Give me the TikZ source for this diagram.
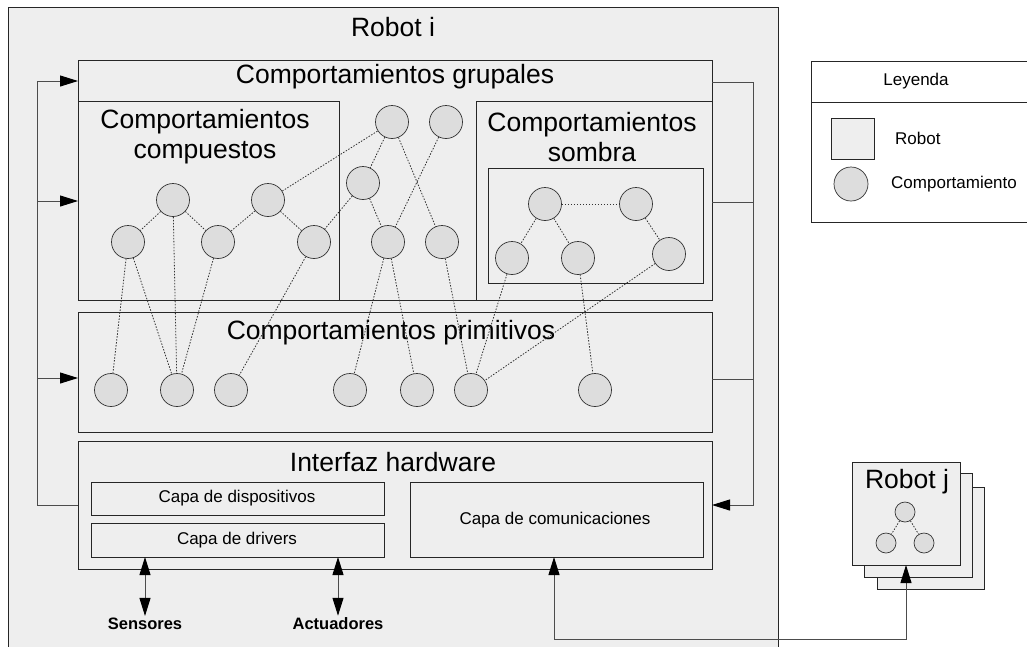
\documentclass[tikz,border=0pt]{standalone}
\usepackage{fontspec}
\setmainfont{Liberation Sans}
\usetikzlibrary{positioning,arrows.meta}
\definecolor{robotgray}{HTML}{EEEEEE}
\definecolor{behgray}{HTML}{DDDDDD}

\begin{document}
\begin{tikzpicture}[x=1pt,y=-1pt,
        panel/.style={draw=black!85, fill=robotgray, line width=0.8pt, anchor=north west,
                      inner sep=0pt, outer sep=0pt},
        beh/.style={circle, draw=black!80, fill=behgray, line width=0.7pt,
                    minimum size=33pt, inner sep=0pt},
        titletext/.style={font=\fontsize{26.5}{30}\selectfont, align=center, inner sep=0pt},
        smalltext/.style={font=\fontsize{17}{20}\selectfont, inner sep=0pt},
        iolabel/.style={font=\fontsize{16.5}{20}\selectfont\bfseries, inner sep=2pt},
        link/.style={draw=black!70, line width=1pt},
        feed/.style={link, -{Triangle[length=18pt,width=11pt,black]}},
        twoway/.style={link, {Triangle[length=18pt,width=11pt,black]}-{Triangle[length=18pt,width=11pt,black]}},
        dep/.style={draw=black!80, line width=0.8pt, dash pattern=on 1.5pt off 1.5pt}]
  \useasboundingbox (0,0) rectangle (1027,646);
  \clip (0,0) rectangle (1027,646);

  \node[panel, minimum width=770pt, minimum height=660pt] (roboti) at (8,7) {};
  \node[titletext] (robotititle) at (393,27) {Robot i};

  \node[panel, minimum width=634pt, minimum height=240pt] (grupal) at (78,60) {};
  \node[titletext] (grupaltitle) at (395,77) {Comportamientos grupales};
  \node[panel, minimum width=261pt, minimum height=199pt] (comp) at (78,101) {};
  \node[titletext] (comptitle) at (205,137) {Comportamientos\\compuestos};
  \node[panel, minimum width=236pt, minimum height=199pt] (sombra) at (476,101) {};
  \node[titletext] (sombratitle) at (592,137) {Comportamientos\\sombra};
  \node[panel, minimum width=215pt, minimum height=115pt] (sombrain) at (488,168) {};

  \node[panel, minimum width=634pt, minimum height=120pt] (prim) at (78,312) {};
  \node[titletext] (primtitle) at (391,333) {Comportamientos primitivos};

  \node[panel, minimum width=634pt, minimum height=128pt] (hw) at (78,441) {};
  \node[titletext] (hwtitle) at (393,462) {Interfaz hardware};
  \node[panel, minimum width=293pt, minimum height=33pt] (disp) at (91,482) {};
  \node[smalltext] (disptxt) at (237,498) {Capa de dispositivos};
  \node[panel, minimum width=293pt, minimum height=34pt] (drv) at (91,523) {};
  \node[smalltext] (drvtxt) at (237,540) {Capa de drivers};
  \node[panel, minimum width=293pt, minimum height=75pt] (com) at (410,482) {};
  \node[smalltext] (comtxt) at (555,520) {Capa de comunicaciones};

  \foreach \n/\x/\y in {a1/173/200, a2/268/200, b1/128/242, b2/218/242, b3/314/242,
                        m1/392/122, m2/446/122, m3/363/183, m4/388/242, m5/442/242,
                        s1/545/204, s2/636/204, s3/512/258, s4/578/258, s5/669/254,
                        p1/111/390, p2/177/390, p3/231/390, p4/350/390,
                        p5/417/390, p6/471/390, p7/595/390}
    \node[beh] (\n) at (\x,\y) {};
  \foreach \u/\v in {a1/b1, a1/b2, a2/b2, a2/b3, a2/m1, m1/m3, m3/b3, m3/m4, m1/m5, m2/m4,
                     s1/s2, s1/s3, s1/s4, s2/s5,
                     b1/p1, b1/p2, a1/p2, b2/p2, b3/p3, m4/p4, m4/p5, m5/p6, s3/p6, s5/p6, s4/p7}
    \draw[dep] (\u) -- (\v);

  \coordinate (l1) at (37,81);
  \coordinate (l2) at (37,201);
  \coordinate (l3) at (37,378);
  \draw[link] (hw.west) -| (l1);
  \draw[feed] (l1) -- (l1 -| grupal.west);
  \draw[feed] (l2) -- (l2 -| comp.west);
  \draw[feed] (l3) -- (l3 -| prim.west);

  \coordinate (r1) at (753,82);
  \coordinate (r2) at (753,202);
  \coordinate (r3) at (753,379);
  \draw[feed] (r1 -| grupal.east) -- (r1) |- (hw.east);
  \draw[link] (r2 -| sombra.east) -- (r2);
  \draw[link] (r3 -| prim.east) -- (r3);

  \node[iolabel] (sens) at (145,624) {Sensores};
  \node[iolabel] (act) at (338,624) {Actuadores};
  \draw[twoway] (sens.north |- drv.south) -- (sens.north);
  \draw[twoway] (act.north |- drv.south) -- (act.north);

  \node[panel, minimum width=107pt, minimum height=102pt] (rj3) at (877,487) {};
  \node[panel, minimum width=108pt, minimum height=104pt] (rj2) at (864,473) {};
  \node[panel, minimum width=108pt, minimum height=103pt] (rj1) at (852,462) {};
  \node[titletext] (rjtitle) at (907,482) {Robot j};
  \node[beh, minimum size=20pt] (rc1) at (905,512) {};
  \node[beh, minimum size=20pt] (rc2) at (886,543) {};
  \node[beh, minimum size=20pt] (rc3) at (924,543) {};
  \draw[dep] (rc1) -- (rc2);
  \draw[dep] (rc1) -- (rc3);

  \coordinate (c1) at (554,639);
  \coordinate (c2) at (906,639);
  \draw[twoway] (c1 |- com.south) -- (c1) -- (c2) -- (c2 |- rj1.south);

  \node[panel, fill=white, minimum width=220pt, minimum height=161pt] (legend) at (811,61) {};
  \node[panel, fill=white, minimum width=220pt, minimum height=41pt] (leghead) at (811,61) {};
  \node[smalltext] (legtitle) at (916,81) {Leyenda};
  \node[panel, anchor=center, minimum width=43pt, minimum height=41pt] (legrobot) at (852.5,138.5) {};
  \node[smalltext, anchor=west] (legrobottxt) at (895,138) {Robot};
  \node[beh, minimum size=34pt] (legbeh) at (851,184) {};
  \node[smalltext, anchor=west] (legbehtxt) at (891,184) {Comportamiento};
\end{tikzpicture}
\end{document}
